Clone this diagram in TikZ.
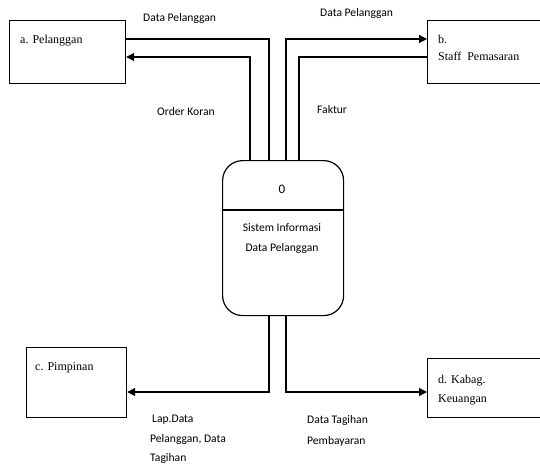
\documentclass[tikz,border=0pt]{standalone}
\usepackage{fontspec}
\setmainfont{Liberation Serif}
\newfontfamily\lblfont{Carlito}
\usetikzlibrary{arrows.meta}
\begin{document}
\begin{tikzpicture}[x=1pt,y=-1pt,
  entity/.style={draw,line width=1.2pt,minimum width=#1,inner sep=0pt,anchor=north west},
  ent/.style={anchor=base west,inner sep=0pt,font=\fontsize{12}{14}\selectfont},
  lbl/.style={anchor=base west,inner sep=0pt,font=\lblfont\fontsize{11.6}{13}\selectfont},
  flow/.style={line width=1.2pt},
  arr/.style={flow,-{Triangle[length=8pt,width=8pt]}}]
\useasboundingbox (0,0) rectangle (540,466);
% entities
\node[entity=116pt,minimum height=63pt] (a) at (9,20) {};
\node[entity=116pt,minimum height=63pt] (b) at (427,20) {};
\node[entity=100pt,minimum height=70pt] (c) at (26,347) {};
\node[entity=116pt,minimum height=59pt] (d) at (427,358) {};
\node[ent] (ta) at (20,43) {a. Pelanggan};
\node[ent] (tb1) at (438,43) {b.};
\node[ent] (tb2) at (438,60) {Staff\ \ Pemasaran};
\node[ent] (tc) at (35,370) {c. Pimpinan};
\node[ent] (td1) at (438,383) {d. Kabag.};
\node[ent] (td2) at (438,402) {Keuangan};
% process
\node[draw,line width=1.2pt,rounded corners=20pt,minimum width=121pt,minimum height=155pt,anchor=north west,inner sep=0pt] (p) at (222,160) {};
\draw[line width=1.2pt] (p.west |- 0,210) -- (p.east |- 0,210);
\node[lbl,anchor=base,font=\lblfont\fontsize{13}{15}\selectfont] (p0) at (282,193) {0};
\node[lbl,anchor=base] (p1) at (282,231) {Sistem Informasi};
\node[lbl,anchor=base] (p2) at (282,251) {Data Pelanggan};
% flows
\draw[flow] (a.north east |- 0,39) -| (p.north -| 269,0);
\draw[arr] (p.north -| 250,0) |- (a.east |- 0,57);
\draw[arr] (p.north -| 286,0) |- (b.west |- 0,39);
\draw[flow] (b.west |- 0,57) -| (p.north -| 299,0);
\draw[arr] (p.south -| 269,0) |- (c.east |- 0,392);
\draw[arr] (p.south -| 286,0) |- (d.west |- 0,392);
% labels
\node[lbl] (l1) at (143,21) {Data Pelanggan};
\node[lbl] (l2) at (320,16) {Data Pelanggan};
\node[lbl] (l3) at (157,115) {Order Koran};
\node[lbl] (l4) at (317,113) {Faktur};
\node[lbl] (l5a) at (152,422) {Lap.Data};
\node[lbl] (l5b) at (150,442) {Pelanggan, Data};
\node[lbl] (l5c) at (150,461) {Tagihan};
\node[lbl] (l6a) at (307,423) {Data Tagihan};
\node[lbl] (l6b) at (307,444) {Pembayaran};
\end{tikzpicture}
\end{document}
